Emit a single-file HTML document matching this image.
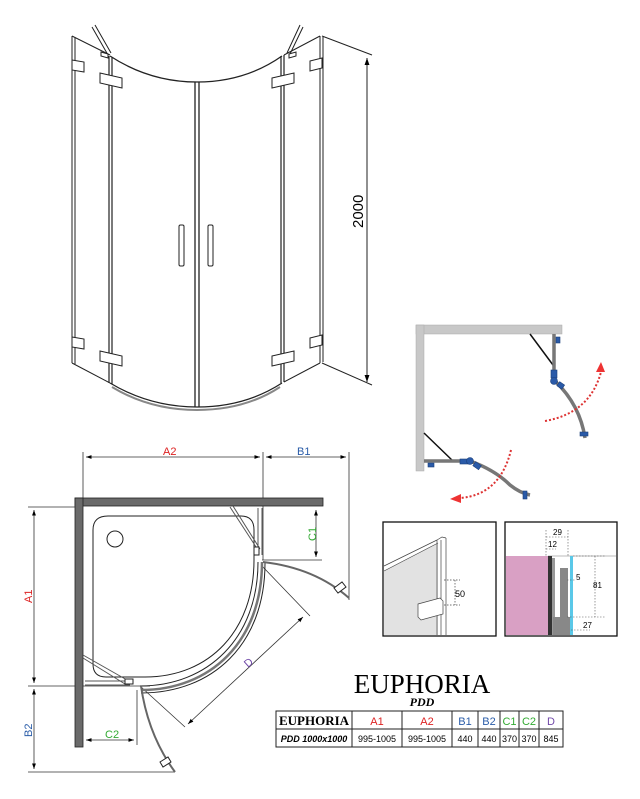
<!DOCTYPE html>
<html><head><meta charset="utf-8"><style>
html,body{margin:0;padding:0;background:#fff}
svg{display:block}
text{font-family:"Liberation Sans",sans-serif}
</style></head><body>
<svg width="640" height="799" viewBox="0 0 640 799" xmlns="http://www.w3.org/2000/svg">
<defs>
<marker id="ar" viewBox="0 0 10 10" refX="10" refY="5" markerWidth="7" markerHeight="7" orient="auto-start-reverse"><path d="M0,1.5 L10,5 L0,8.5 z" fill="#000"/></marker>
</defs>
<!-- 3D cabin -->
<g fill="none" stroke="#222" stroke-width="1">
<path d="M72,36 L72,363 M75,37 L75,364"/>
<path d="M72,36 L110,55 M72,363 L110,383"/>
<path d="M109,56 L109,383 M112,57 L112,384" stroke-width="1.2"/>
<path d="M110,56 Q150,82 197,82 Q245,82 282,56" stroke-width="1.3"/>
<path d="M110,383 Q150,407 197,407 Q245,407 282,383" stroke-width="1.3"/>
<path d="M112,387 Q150,410 197,410 Q245,410 280,387" stroke="#888" stroke-width="2"/>
<path d="M195,82 L195,407 M199,82 L199,407" stroke-width="1.3"/>
<path d="M281,56 L281,383 M284,55 L284,382" stroke-width="1.2"/>
<path d="M320,36 L320,363 M323,37 L323,362"/>
<path d="M284,55 L320,36 M284,382 L320,363"/>
<path d="M92,27 L108,55 M95,25 L111,53 M300,25 L287,53 M303,27 L290,54"/>
<rect x="179" y="225" width="5" height="41" rx="1.5"/>
<rect x="208" y="225" width="5" height="41" rx="1.5"/>
<g fill="#fff">
<path d="M72,60 L84,62 L84,72 L72,70z M72,337 L84,339 L84,349 L72,347z"/>
<path d="M100,73 L122,78 L122,88 L100,83z M100,351 L122,356 L122,366 L100,361z"/>
<path d="M272,78 L294,73 L294,83 L272,88z M272,356 L294,351 L294,361 L272,366z"/>
<path d="M310,61 L322,58 L322,68 L310,71z M310,338 L322,335 L322,345 L310,348z"/>
<path d="M101,52 L108,54 L108,58 L101,56z M289,54 L296,52 L296,56 L289,58z"/>
</g>
<path d="M322,36 L372,55 M322,363 L372,385"/>
<path d="M367,58 L367,382" marker-start="url(#ar)" marker-end="url(#ar)"/>
</g>
<text x="0" y="0" font-size="15" transform="translate(363,228) rotate(-90)">2000</text>

<!-- Plan view -->
<g fill="none" stroke="#333" stroke-width="0.8">
<path d="M83,452 L83,498 M263,452 L263,560 M349,452 L349,600"/>
<path d="M86,457 L260,457" marker-start="url(#ar)" marker-end="url(#ar)"/>
<path d="M266,457 L346,457" marker-start="url(#ar)" marker-end="url(#ar)"/>
<path d="M28,507 L83,507 M28,686 L150,686 M28,772 L175,772"/>
<path d="M34,510 L34,683" marker-start="url(#ar)" marker-end="url(#ar)"/>
<path d="M34,689 L34,769" marker-start="url(#ar)" marker-end="url(#ar)"/>
<path d="M262,560 L322,560"/>
<path d="M316,510 L316,557" marker-start="url(#ar)" marker-end="url(#ar)"/>
<path d="M137,690 L137,745"/>
<path d="M86,740 L134,740" marker-start="url(#ar)" marker-end="url(#ar)"/>
<path d="M262,566 L310,616 M140,686 L185,727"/>
<path d="M188,724 L303,617" marker-start="url(#ar)" marker-end="url(#ar)"/>
</g>
<rect x="75" y="498" width="248" height="8" fill="#6a6a6a" stroke="#222" stroke-width="0.8"/>
<rect x="75" y="498" width="8" height="249" fill="#6a6a6a" stroke="#222" stroke-width="0.8"/>
<g fill="none" stroke="#222" stroke-width="1">
<path d="M108,516 L241,516 Q254,516 254,530 L254,560 C254,630 210,677 145,677 L106,677 Q93,677 93,664 L93,530 Q93,516 108,516z"/>
<circle cx="115" cy="539" r="8"/>
<path d="M258,562 C258,638 208,686 140,686"/>
<path d="M262,562 C262,642 210,690 141,690" stroke="#777" stroke-width="2.5"/>
<path d="M265,563 C265,645 212,693 141,693"/>
<path d="M230,507 L258,550 M233,506 L260,549" stroke="#555"/>
<path d="M83,655 L127,680 M83,658 L125,684" stroke="#555"/>
<path d="M258,508 L258,555 M262,508 L262,555" stroke="#555"/>
<path d="M85,681 L130,681 M85,685 L130,685" stroke="#555"/>
<path d="M263,562 Q315,568 349,598" stroke="#666" stroke-width="2"/>
<path d="M141,686 Q148,735 175,772" stroke="#666" stroke-width="2"/>
<rect x="254" y="547" width="5" height="8" fill="#fff"/>
<rect x="125" y="679" width="8" height="5" fill="#fff"/>
<path d="M334,588 L342,582 L346,587 L338,593z M160,762 L168,757 L171,762 L163,767z" fill="#fff"/>
</g>
<g font-size="11">
<text x="163" y="455" fill="#d22">A2</text>
<text x="297" y="455" fill="#2a5ca8">B1</text>
<text transform="translate(32,603) rotate(-90)" fill="#d22">A1</text>
<text transform="translate(32,737) rotate(-90)" fill="#2a5ca8">B2</text>
<text transform="translate(316,541) rotate(-90)" fill="#3a3">C1</text>
<text x="105" y="738" fill="#3a3">C2</text>
<text transform="translate(248,668) rotate(-42)" fill="#7048a8">D</text>
</g>

<!-- Top right swing diagram -->
<g>
<rect x="416" y="325" width="146" height="9" fill="#c8c8c8" stroke="#aaa" stroke-width="0.5"/>
<rect x="416" y="325" width="8" height="146" fill="#c8c8c8" stroke="#aaa" stroke-width="0.5"/>
<path d="M530,334 L553,365 M424,433 L454,462" stroke="#111" stroke-width="1.5"/>
<path d="M554,334 L554,375 M424,461 L462,461" stroke="#777" stroke-width="3.5"/>
<path d="M555,381 Q580,405 585,438 M470,461 Q495,470 510,485 Q520,493 530,495" fill="none" stroke="#777" stroke-width="3.5"/>
<g fill="#2a5aa8" stroke="#1b3f7a" stroke-width="0.6">
<rect x="556" y="337" width="4" height="6"/>
<rect x="551" y="370" width="6" height="8"/>
<circle cx="554" cy="381" r="3.5"/>
<rect x="558" y="383" width="6" height="5" transform="rotate(35 561 385)"/>
<rect x="580" y="432" width="8" height="4"/>
<rect x="428" y="463" width="6" height="4"/>
<rect x="460" y="459" width="8" height="5"/>
<circle cx="470" cy="461" r="3.5"/>
<rect x="474" y="463" width="7" height="5" transform="rotate(35 477 465)"/>
<rect x="523" y="491" width="4" height="8"/>
</g>
<path d="M545,421 Q590,413 601,372" fill="none" stroke="#d33" stroke-width="2" stroke-dasharray="2,2"/>
<path d="M596,372 L601,362 L605,372z" fill="#e33"/>
<path d="M511,450 Q500,495 460,498" fill="none" stroke="#d33" stroke-width="2" stroke-dasharray="2,2"/>
<path d="M461,494 L450,499 L461,503z" fill="#e33"/>
</g>

<!-- Detail boxes -->
<rect x="383" y="522" width="113" height="114" fill="#fff" stroke="#111" stroke-width="1.3"/>
<path d="M384,571 L438,543 L438,635 L384,635z" fill="#e2e2e2"/>
<g fill="none" stroke="#444" stroke-width="0.7">
<path d="M384,566 L437,540 M384,571 L438,543"/>
<path d="M437,540 L437,635 M441,540 L441,635 M446,538 L446,635 M437,540 L442,537 L446,538"/>
<path d="M418,604 L440,598 L443,601 L443,614 L421,620 L418,617z" fill="#fff"/>
<path d="M444,580 L460,580 M444,605 L460,605 M455,580 L455,605" stroke-dasharray="1.5,1.5"/>
</g>
<text x="455" y="597" font-size="9">50</text>
<rect x="505" y="522" width="112" height="114" fill="#fff" stroke="#111" stroke-width="1.3"/>
<rect x="506" y="556" width="42" height="79" fill="#d9a0c4"/>
<path d="M548,556 L616,556" stroke="#bbb" stroke-width="1"/>
<rect x="548" y="556" width="4" height="79" fill="#333"/>
<rect x="552" y="558" width="3" height="77" fill="#999"/>
<rect x="560" y="568" width="8" height="50" fill="#888"/>
<rect x="553" y="617" width="17" height="18" fill="#888"/>
<rect x="570" y="556" width="3" height="79" fill="#5ac8e8"/>
<g fill="none" stroke="#555" stroke-width="0.6" stroke-dasharray="1.5,1.5">
<path d="M546,530 L546,556 M568,530 L568,556 M546,537 L568,537 M546,549 L556,549"/>
<path d="M573,556 L605,556 M595,556 L595,617 M567,617 L605,617 M567,580 L575,580 M571,630 L590,630"/>
</g>
<g font-size="8">
<text x="553" y="535">29</text><text x="548" y="547">12</text>
<text x="576" y="580">5</text><text x="593" y="588">81</text><text x="583" y="628">27</text>
</g>

<!-- Title & table -->
<text x="422" y="693" text-anchor="middle" font-size="27" style="font-family:'Liberation Serif',serif">EUPHORIA</text>
<text x="422" y="706" text-anchor="middle" font-size="12" font-weight="bold" font-style="italic" style="font-family:'Liberation Serif',serif">PDD</text>
<g fill="none" stroke="#222" stroke-width="1">
<rect x="276" y="711" width="287" height="36"/>
<path d="M276,729 L563,729 M352,711 L352,747 M402,711 L402,747 M452,711 L452,747 M478,711 L478,747 M500,711 L500,747 M519,711 L519,747 M539,711 L539,747"/>
</g>
<text x="314" y="725" text-anchor="middle" font-size="13" font-weight="bold" style="font-family:'Liberation Serif',serif">EUPHORIA</text>
<g font-size="11" text-anchor="middle">
<text x="377" y="725" fill="#d22">A1</text><text x="427" y="725" fill="#d22">A2</text>
<text x="465" y="725" fill="#2a5ca8">B1</text><text x="489" y="725" fill="#2a5ca8">B2</text>
<text x="509.5" y="725" fill="#3a3">C1</text><text x="529" y="725" fill="#3a3">C2</text>
<text x="551" y="725" fill="#7048a8">D</text>
</g>
<text x="314" y="742" text-anchor="middle" font-size="9" font-weight="bold" font-style="italic">PDD 1000x1000</text>
<g font-size="9" text-anchor="middle">
<text x="377" y="742">995-1005</text><text x="427" y="742">995-1005</text>
<text x="465" y="742">440</text><text x="489" y="742">440</text>
<text x="509.5" y="742">370</text><text x="529" y="742">370</text><text x="551" y="742">845</text>
</g>
</svg>
</body></html>
